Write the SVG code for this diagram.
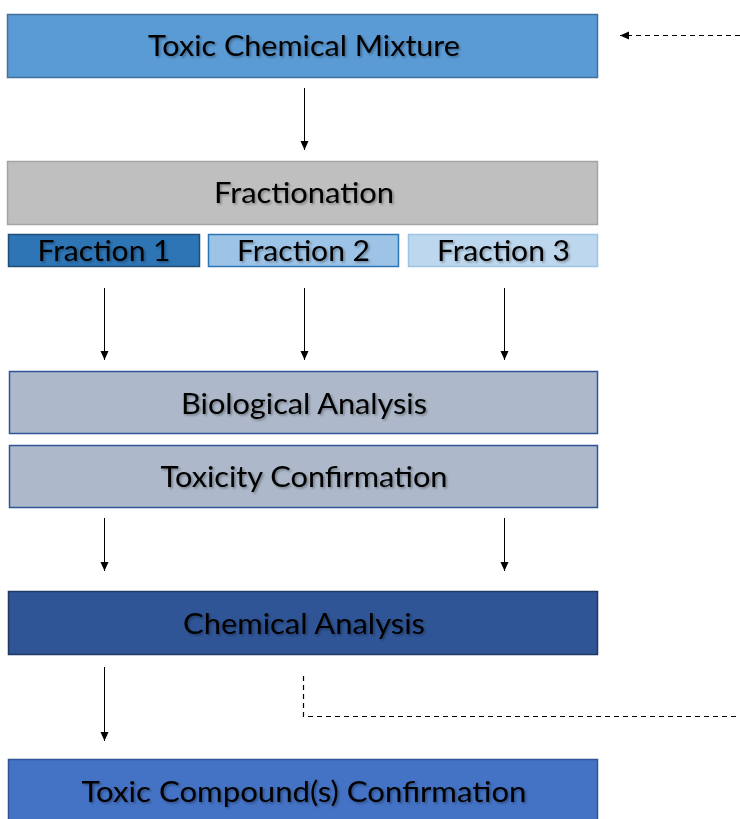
<svg xmlns="http://www.w3.org/2000/svg" width="740" height="819" viewBox="0 0 740 819">
<style>
.box{stroke-width:1.5}
.t{font-family:Lato,"Open Sans","Liberation Sans",sans-serif;font-size:28px;fill:#000;text-anchor:middle;filter:url(#sh)}
.c{stroke:#000;stroke-width:1;fill:none}
.d{stroke:#000;stroke-width:1.2;fill:none;stroke-dasharray:5 4}
</style>
<defs>
<filter id="sh" x="-5%" y="-20%" width="110%" height="150%">
<feDropShadow dx="1.5" dy="1.5" stdDeviation="1" flood-color="#000" flood-opacity="0.35"/>
</filter>
<marker id="ah" markerWidth="10" markerHeight="10" refX="9" refY="5" orient="auto" markerUnits="userSpaceOnUse">
<path d="M0,1 L9,5 L0,9 Z" fill="#000"/>
</marker>
</defs>
<rect width="740" height="819" fill="#fff"/>
<g id="mixture"><rect class="box" x="7.5" y="14.5" width="590" height="63" fill="#5b9bd5" stroke="#41719c"/><text class="t" x="304" y="56" textLength="312" lengthAdjust="spacingAndGlyphs">Toxic Chemical Mixture</text></g>
<g id="fractionation"><rect class="box" x="7.5" y="161.5" width="590" height="63" fill="#bfbfbf" stroke="#a5a5a5"/><text class="t" x="304" y="203" textLength="180" lengthAdjust="spacingAndGlyphs">Fractionation</text></g>
<g id="fraction1"><rect class="box" x="8.5" y="234.5" width="191" height="32" fill="#2e75b6" stroke="#1f4e79"/><text class="t" x="104" y="261" textLength="133" lengthAdjust="spacingAndGlyphs">Fraction 1</text></g>
<g id="fraction2"><rect class="box" x="208.5" y="234.5" width="190" height="32" fill="#9dc3e6" stroke="#2e75b6"/><text class="t" x="303.5" y="261" textLength="133" lengthAdjust="spacingAndGlyphs">Fraction 2</text></g>
<g id="fraction3"><rect class="box" x="408.5" y="234.5" width="189" height="32" fill="#bdd7ee" stroke="#9dc3e6"/><text class="t" x="503.5" y="261" textLength="133" lengthAdjust="spacingAndGlyphs">Fraction 3</text></g>
<g id="biological"><rect class="box" x="9.5" y="371.5" width="588" height="62" fill="#adb9ca" stroke="#2f5597"/><text class="t" x="304" y="414" textLength="246" lengthAdjust="spacingAndGlyphs">Biological Analysis</text></g>
<g id="toxicity"><rect class="box" x="9.5" y="445.5" width="588" height="62" fill="#adb9ca" stroke="#2f5597"/><text class="t" x="304" y="487" textLength="287" lengthAdjust="spacingAndGlyphs">Toxicity Confirmation</text></g>
<g id="chemical"><rect class="box" x="8.5" y="591.5" width="589" height="63" fill="#2f5597" stroke="#203864"/><text class="t" x="304" y="634" textLength="242" lengthAdjust="spacingAndGlyphs">Chemical Analysis</text></g>
<g id="compound"><rect class="box" x="8.5" y="759.5" width="589" height="70" fill="#4472c4" stroke="#2f5597"/><text class="t" x="304" y="802" textLength="445" lengthAdjust="spacingAndGlyphs">Toxic Compound(s) Confirmation</text></g>
<g id="connectors">
<line class="c" x1="304.5" y1="88" x2="304.5" y2="150" marker-end="url(#ah)"/>
<line class="c" x1="104.5" y1="288" x2="104.5" y2="360" marker-end="url(#ah)"/>
<line class="c" x1="304.5" y1="288" x2="304.5" y2="360" marker-end="url(#ah)"/>
<line class="c" x1="504.5" y1="288" x2="504.5" y2="360" marker-end="url(#ah)"/>
<line class="c" x1="104.5" y1="518" x2="104.5" y2="571" marker-end="url(#ah)"/>
<line class="c" x1="504.5" y1="518" x2="504.5" y2="571" marker-end="url(#ah)"/>
<line class="c" x1="104.5" y1="667" x2="104.5" y2="741" marker-end="url(#ah)"/>
<path class="d" d="M303.5,676 V716.5 H740"/>
<line class="d" x1="740" y1="35.5" x2="620" y2="35.5" marker-end="url(#ah)"/>
</g>
</svg>
